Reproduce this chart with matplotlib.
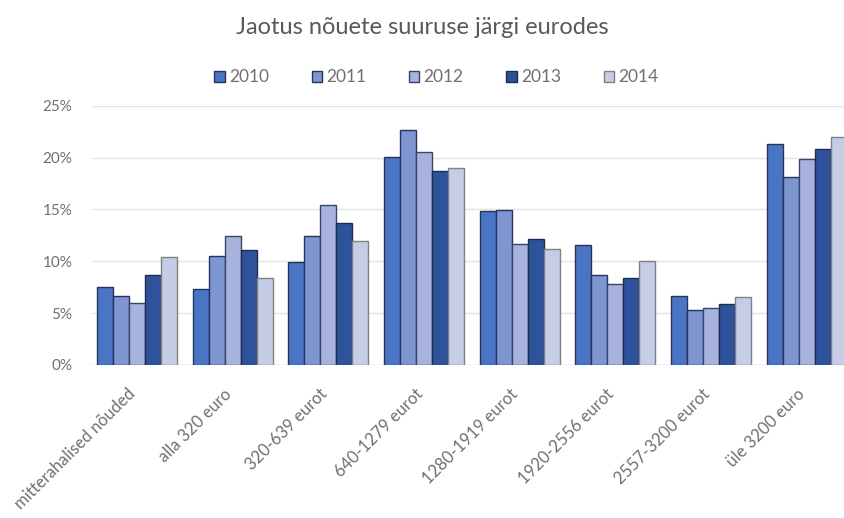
import matplotlib.pyplot as plt
import numpy as np

plt.rcParams['font.family'] = ['Lato', 'DejaVu Sans']

categories = ["mitterahalised nõuded", "alla 320 euro", "320-639 eurot",
              "640-1279 eurot", "1280-1919 eurot", "1920-2556 eurot",
              "2557-3200 eurot", "üle 3200 euro"]
years = ["2010", "2011", "2012", "2013", "2014"]

share_2010 = [7.5, 7.3, 9.9, 20.1, 14.8, 11.6, 6.7, 21.3]
share_2011 = [6.7, 10.5, 12.4, 22.7, 14.9, 8.7, 5.3, 18.1]
share_2012 = [6.0, 12.4, 15.4, 20.5, 11.7, 7.8, 5.5, 19.9]
share_2013 = [8.7, 11.1, 13.7, 18.7, 12.1, 8.4, 5.9, 20.8]
share_2014 = [10.4, 8.4, 12.0, 19.0, 11.2, 10.0, 6.6, 22.0]
series = [share_2010, share_2011, share_2012, share_2013, share_2014]

fills = ['#4a74c4', '#7d95d0', '#a8b3dd', '#2f539a', '#c5cce6']
edges = ['#26345a', '#26345a', '#3a4468', '#1e2c50', '#808080']
text_grey = '#595959'
tick_grey = '#707070'

fig = plt.figure(figsize=(8.44, 5.18), dpi=100)
ax = fig.add_axes([92 / 844, 1 - 365 / 518, 1 - 92 / 844, (365 - 105.7) / 518])

x = np.arange(len(categories))
bw = 0.167
for k, (vals, fc, ec) in enumerate(zip(series, fills, edges)):
    ax.bar(x + (k - 2) * bw, vals, width=bw, color=fc, edgecolor=ec,
           linewidth=1.0, label=years[k], zorder=3)

ax.set_ylim(0, 25)
ax.set_xlim(-0.47, 7.39)
ax.set_yticks(range(0, 26, 5))
ax.set_yticklabels([f"{v}%" for v in range(0, 26, 5)])
ax.yaxis.grid(True, color='#e4e4e4', linewidth=1.0, zorder=0)
ax.set_axisbelow(True)
for s in ax.spines.values():
    s.set_visible(False)
ax.axhline(0, color='#d9d9d9', linewidth=1.0, zorder=2)
ax.tick_params(axis='both', length=0, colors=tick_grey)
ax.tick_params(axis='y', pad=14, labelsize=11)

ax.set_xticks(x - 0.1)
ax.set_xticklabels(categories, rotation=45, ha='right',
                   rotation_mode='anchor')
ax.tick_params(axis='x', pad=15, labelsize=12)

fig.text(0.5, 0.946, "Jaotus nõuete suuruse järgi eurodes", ha='center',
         va='center', fontsize=17, color=text_grey)
fig.legend(loc='center', bbox_to_anchor=(0.517, 0.851), ncol=5, frameon=False,
           fontsize=12.5, labelcolor=tick_grey, handlelength=0.6,
           handleheight=0.6, handletextpad=0.25, columnspacing=2.45)

fig.savefig("out.png", dpi=100)
